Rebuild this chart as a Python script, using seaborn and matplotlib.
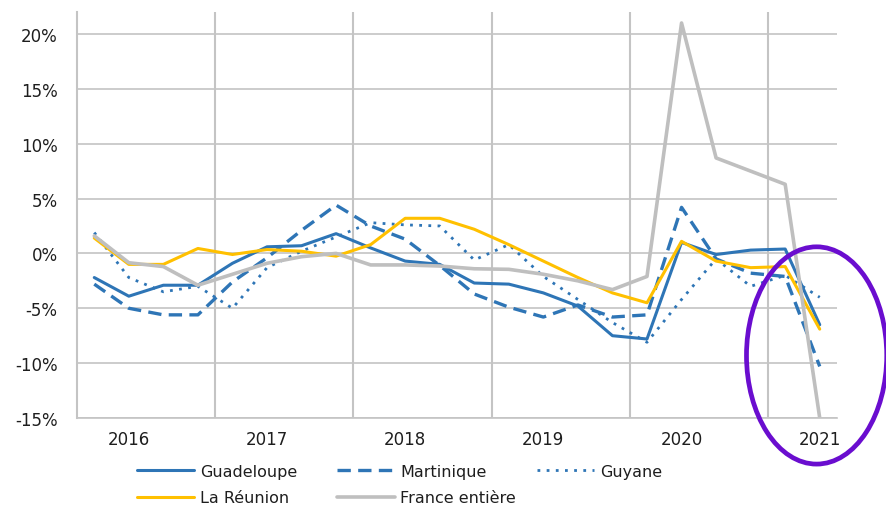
import numpy as np
import pandas as pd
import matplotlib
matplotlib.use("Agg")
import matplotlib.pyplot as plt
from matplotlib.patches import Ellipse
from matplotlib.ticker import FixedLocator
import seaborn as sns

# --- Data (trimestres 2016 T1 -> 2021 T2), en % ---
years = ["2016", "2017", "2018", "2019", "2020", "2021"]
quarters = [f"{y}T{q}" for y in years for q in range(1, 5)][:22]

guadeloupe = [-2.2, -3.9, -2.9, -2.9, -0.9, 0.6, 0.7, 1.8, 0.5, -0.7, -1.0,
              -2.7, -2.8, -3.6, -4.8, -7.5, -7.8, 1.0, -0.1, 0.3, 0.4, -6.5]
martinique = [-2.8, -5.0, -5.6, -5.6, -2.6, -0.4, 2.1, 4.4, 2.5, 1.3, -1.1,
              -3.7, -4.9, -5.8, -4.7, -5.8, -5.6, 4.2, -0.5, -1.8, -2.1, -10.3]
guyane = [1.9, -2.2, -3.5, -3.0, -5.0, -1.3, 0.2, 1.5, 2.8, 2.6, 2.5,
          -0.6, 0.8, -2.1, -4.2, -6.3, -8.1, -4.2, -0.5, -3.0, -2.0, -4.0]
reunion = [1.4, -1.0, -1.0, 0.45, -0.1, 0.35, 0.2, -0.25, 0.8, 3.2, 3.2,
           2.2, 0.8, -0.7, -2.2, -3.6, -4.5, 1.1, -0.7, -1.3, -1.2, -6.9]
france = [1.6, -0.85, -1.2, -2.9, -1.9, -0.9, -0.3, 0.0, -1.05, -1.05, -1.15,
          -1.4, -1.45, -1.9, -2.5, -3.3, -2.1, 21.0, 8.7, 7.5, 6.3, -15.0]

series = {
    "Guadeloupe": guadeloupe,
    "Martinique": martinique,
    "Guyane": guyane,
    "La Réunion": reunion,
    "France entière": france,
}

blue = "#2e75b6"
styles = {
    "Guadeloupe": dict(color=blue, lw=2.2, linestyle="-"),
    "Martinique": dict(color=blue, lw=2.4, linestyle=(0, (4, 2.2))),
    "Guyane": dict(color=blue, lw=2.0, linestyle=(0, (1, 2.3))),
    "La Réunion": dict(color="#ffc000", lw=2.2, linestyle="-"),
    "France entière": dict(color="#bfbfbf", lw=2.6, linestyle="-"),
}

df = pd.DataFrame(series)
df["idx"] = np.arange(len(quarters))

sns.set_style("white")
plt.rcParams["font.family"] = ["DejaVu Sans"]
plt.rcParams["axes.unicode_minus"] = False
txt = "#1e1e1e"
grid_c = "#c4c4c4"

fig = plt.figure(figsize=(8.87, 5.10), dpi=100)
ax = fig.add_axes([77 / 887, 1 - 419 / 510, 760 / 887, 406 / 510])

handles = {}
for name in series:
    sns.lineplot(data=df, x="idx", y=name, ax=ax, **styles[name])
    handles[name] = ax.lines[-1]

ax.set_xlim(-0.5, 21.5)
ax.set_ylim(-15, 22)

# axe Y
yt = np.arange(-15, 21, 5)
ax.set_yticks(yt)
ax.set_yticklabels([f"{v}%" for v in yt])
ax.grid(axis="y", color=grid_c, lw=1.2)

# axe X : années, séparateurs entre années
ax.set_xticks([1, 5, 9, 13, 17, 21])
ax.set_xticklabels(years)
ax.xaxis.set_minor_locator(FixedLocator([3.5, 7.5, 11.5, 15.5, 19.5]))
ax.grid(axis="x", which="minor", color=grid_c, lw=1.5)
ax.grid(axis="x", which="major", visible=False)

ax.tick_params(axis="y", length=5, color=grid_c, width=1.2, pad=9,
               labelsize=12, labelcolor=txt)
ax.tick_params(axis="x", which="both", length=0, pad=9,
               labelsize=12, labelcolor=txt)
for side in ["top", "right"]:
    ax.spines[side].set_visible(False)
ax.spines["left"].set_color(grid_c)
ax.spines["left"].set_linewidth(1.5)
ax.spines["bottom"].set_color(grid_c)
ax.spines["bottom"].set_linewidth(1.2)
ax.set_xlabel("")
ax.set_ylabel("")

# ellipse violette autour de 2021
ell = Ellipse((20.91, -9.3), width=4.06, height=19.8, fill=False,
              edgecolor="#6a0dcf", lw=3.4, clip_on=False, zorder=10)
ax.add_patch(ell)

# légende en trois colonnes placées à la main
cols = [(137, ["Guadeloupe", "La Réunion"]),
        (337, ["Martinique", "France entière"]),
        (537, ["Guyane"])]
for xpx, names in cols:
    fig.legend([handles[n] for n in names], names,
               loc="upper left", bbox_to_anchor=(xpx / 887, 1 - 465 / 510),
               frameon=False, borderpad=0, borderaxespad=0,
               handlelength=3.6, handletextpad=0.35, labelspacing=0.7,
               fontsize=11.5, labelcolor=txt)

fig.savefig("out.png", dpi=100)
